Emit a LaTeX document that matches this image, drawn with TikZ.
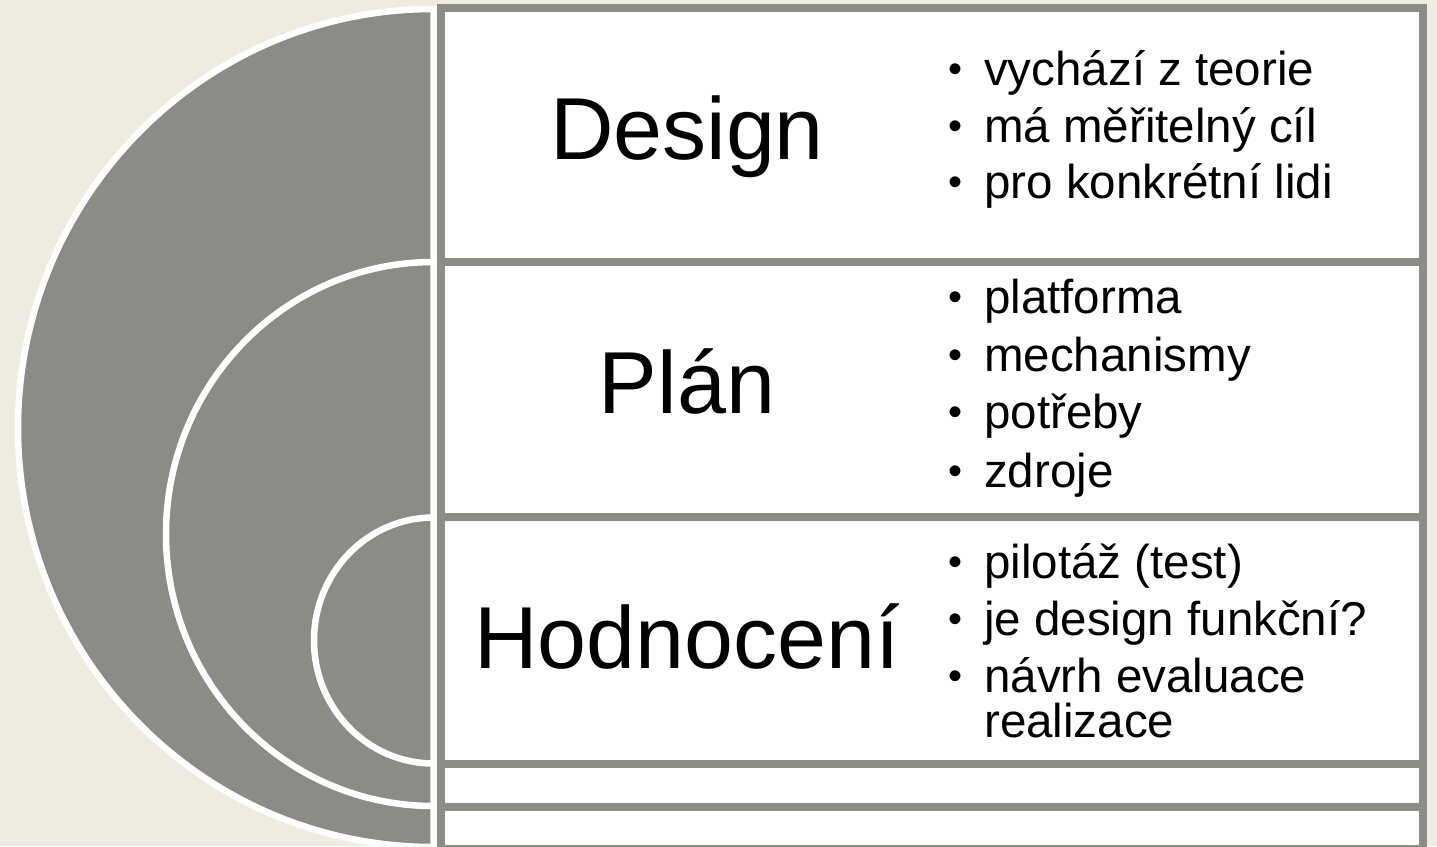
\documentclass[tikz,border=0pt]{standalone}
\usepackage{fontspec}
\setmainfont{Liberation Sans}
\definecolor{bgbeige}{RGB}{238,236,225}
\definecolor{shapegrey}{RGB}{139,140,133}
\tikzset{
  halfdisc/.style={fill=shapegrey, draw=white, line width=6.5pt, line join=miter},
  rowbox/.style={draw=shapegrey, fill=white, line width=8pt},
  headtext/.style={font=\fontsize{88}{100}\selectfont, anchor=base, inner sep=0pt},
  itemtext/.style={font=\fontsize{47.5}{57}\selectfont, anchor=base west, inner sep=0pt},
}
\newcommand{\bul}{\llap{\raisebox{2.5pt}{\fontsize{40}{40}\selectfont\textbullet}\hspace{22pt}}}
\begin{document}
\begin{tikzpicture}[x=1pt,y=-1pt]
\useasboundingbox (0,0) rectangle (1437,846);
\fill[bgbeige] (0,0) rectangle (1437,846);
% nested half discs
\draw[halfdisc] (433.5,9) arc[start angle=270, end angle=90, x radius=415.5, y radius=419] -- cycle;
\draw[halfdisc] (433.5,262) arc[start angle=270, end angle=90, x radius=267.5, y radius=272] -- cycle;
\draw[halfdisc] (433.5,517.5) arc[start angle=270, end angle=90, x radius=119.5, y radius=123] -- cycle;
% row boxes
\draw[rowbox] (441,8) rectangle (1423,262);
\draw[rowbox] (441,262) rectangle (1423,517);
\draw[rowbox] (441,517) rectangle (1423,763.5);
\draw[rowbox] (441,763.5) rectangle (1423,806.5);
\draw[rowbox] (441,806.5) rectangle (1423,849);
% headings
\node[headtext] (design) at (687,159) {Design};
\node[headtext] (plan) at (687,413) {Plán};
\node[headtext] (hodn) at (687,668) {Hodnocení};
% Design items
\node[itemtext] (d1) at (984,85) {\bul vychází z teorie};
\node[itemtext] (d2) at (984,142) {\bul má měřitelný cíl};
\node[itemtext] (d3) at (984,198) {\bul pro konkrétní lidi};
% Plan items
\node[itemtext] (p1) at (984,313) {\bul platforma};
\node[itemtext] (p2) at (984,371) {\bul mechanismy};
\node[itemtext] (p3) at (984,428) {\bul potřeby};
\node[itemtext] (p4) at (984,487) {\bul zdroje};
% Hodnoceni items
\node[itemtext] (h1) at (984,578) {\bul pilotáž (test)};
\node[itemtext] (h2) at (984,635) {\bul je design funkční?};
\node[itemtext] (h3) at (984,692) {\bul návrh evaluace};
\node[itemtext] (h4) at (984,737) {realizace};
\end{tikzpicture}
\end{document}
